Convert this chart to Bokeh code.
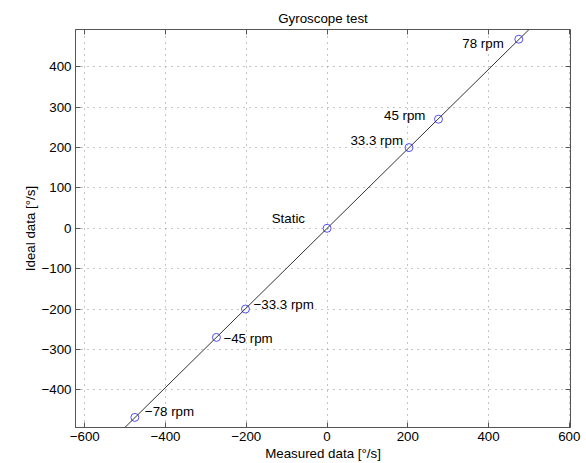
import numpy as np
from bokeh.plotting import figure
from bokeh.models import LinearAxis, FixedTicker, Range1d, ColumnDataSource, Slope
from bokeh.embed import file_html
from bokeh.resources import INLINE
from bokeh.core.properties import value

# ---- data ----
labels = ["\u221278 rpm", "\u221245 rpm", "\u221233.3 rpm", "Static", "33.3 rpm", "45 rpm", "78 rpm"]
measured = [-476, -274, -202, 0, 203, 276, 475]
ideal = [-468, -270, -199.8, 0, 199.8, 270, 468]
x_ticks = [-600, -400, -200, 0, 200, 400, 600]
y_ticks = [-400, -300, -200, -100, 0, 100, 200, 300, 400]

# label placement (styles)
lab_align = ["left", "left", "left", "right", "right", "right", "right"]
lab_dx = [10, 7, 8, -22, -6, -13, -15]
lab_dy = [-6, 1, -5, -10, -7, -4, 4]

FONT = "Liberation Sans"
FS = "10pt"
AX = "#555555"

def fmt(v):
    s = str(v)
    return s.replace("-", "\u2212")

p = figure(width=586, height=463, output_backend="svg", toolbar_location=None,
           x_range=Range1d(-623, 603), y_range=Range1d(-493, 492),
           min_border_left=75, min_border_right=16, min_border_top=29, min_border_bottom=36,
           title="Gyroscope test")
p.title.align = "center"
p.title.text_font = FONT
p.title.text_font_size = FS
p.title.text_font_style = "normal"
p.title.text_color = "black"
p.title.standoff = 7
p.title.offset = 0

p.outline_line_color = AX
p.outline_line_width = 1
p.outline_line_alpha = 1.0

p.xaxis.ticker = FixedTicker(ticks=x_ticks)
p.yaxis.ticker = FixedTicker(ticks=y_ticks)
p.xaxis.major_label_overrides = {v: fmt(v) for v in x_ticks}
p.yaxis.major_label_overrides = {v: fmt(v) for v in y_ticks}
p.xaxis.axis_label = "Measured data [\u00b0/s]"
p.yaxis.axis_label = "Ideal data [\u00b0/s]"
for ax in (p.xaxis[0], p.yaxis[0]):
    ax.major_tick_in = 5
    ax.major_tick_out = 0
    ax.minor_tick_in = 0
    ax.minor_tick_out = 0
    ax.axis_line_color = AX
    ax.major_tick_line_color = AX
    ax.major_label_text_font = FONT
    ax.major_label_text_font_size = FS
    ax.major_label_text_color = "black"
    ax.axis_label_text_font = FONT
    ax.axis_label_text_font_size = FS
    ax.axis_label_text_font_style = "normal"
    ax.axis_label_text_color = "black"
p.xaxis.major_label_standoff = 4
p.xaxis.axis_label_standoff = 2
p.yaxis.major_label_standoff = 4
p.yaxis.axis_label_standoff = 0

for loc, ticks in (("above", x_ticks), ("right", y_ticks)):
    ax = LinearAxis(ticker=FixedTicker(ticks=ticks))
    ax.major_tick_in = 5
    ax.major_tick_out = 0
    ax.minor_tick_in = 0
    ax.minor_tick_out = 0
    ax.axis_line_color = None
    ax.major_tick_line_color = AX
    ax.major_label_text_font_size = "0px"
    ax.major_label_standoff = 0
    ax.major_label_overrides = {v: "" for v in ticks}
    p.add_layout(ax, loc)

p.xgrid.ticker = FixedTicker(ticks=x_ticks)
p.ygrid.ticker = FixedTicker(ticks=y_ticks)
for g in (p.xgrid[0], p.ygrid[0]):
    g.grid_line_color = "#8c8c8c"
    g.grid_line_dash = "1 5"
    g.grid_line_width = 1

# fitted line from the data
slope, intercept = np.polyfit(measured, ideal, 1)
p.add_layout(Slope(gradient=slope, y_intercept=intercept, line_color="#333333", line_width=1))

src = ColumnDataSource(dict(x=measured, y=ideal, text=labels, align=lab_align, dx=lab_dx, dy=lab_dy))
p.scatter("x", "y", source=src, marker="circle", size=8, fill_color=None,
          line_color="#5050ff", line_width=1)
p.text("x", "y", text="text", source=src, text_align="align", x_offset="dx", y_offset="dy",
       text_baseline="middle", text_font=value(FONT), text_font_size=FS, text_color="black")

open("out.html", "w").write(file_html(p, INLINE))
